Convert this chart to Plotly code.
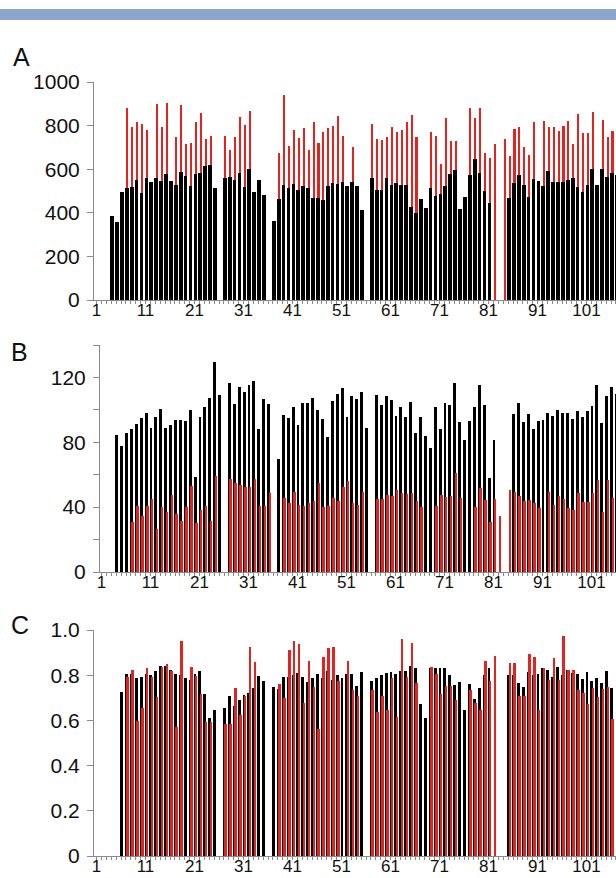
import plotly.graph_objects as go

# ---------------- data (index 1..107) ----------------
positions = list(range(1, 108))

A_black = [None, None, None, 385, 357, 494, 512, 517, 549, 491,
           559, 540, 559, 544, 576, 547, 529, 588, 570, 524,
           579, 582, 613, 619, 515, None, 559, 564, 549, 584,
           518, 600, 496, 549, 480, None, 362, 465, 529, 512,
           534, 506, 523, 512, 468, 467, 458, 524, 537, 532,
           543, 524, 540, 524, 415, None, 559, 503, 506, 559,
           529, 537, 529, 529, 426, 397, 465, 423, 514, 476,
           488, 521, 579, 597, 418, 471, 573, 646, 582, 502,
           445, None, None, None, 468, 537, 573, 529, 471, 555,
           547, 524, 594, 540, 541, 543, 552, 559, 518, 497,
           529, 600, 529, 600, 562, 582, 575]

A_red = [None, None, None, None, None, None, 882, 792, 815, 806,
         780, None, 897, 795, 904, None, 749, 895, 716, 719,
         815, 859, 737, 754, None, None, 752, 689, 746, 838,
         801, 868, None, None, None, None, None, 673, 942, 705,
         780, 743, 787, 686, 818, 719, 772, 787, 798, 844,
         752, None, 702, None, None, None, 806, 737, 734, 746,
         792, 771, 780, 818, 847, 746, None, None, 772, 752,
         623, 833, 730, 731, None, None, 879, 836, 883, 673,
         651, 716, None, 737, 661, 783, 792, 704, 663, 815,
         None, 821, 792, 795, 777, 798, 821, 716, 854, 765,
         765, 863, None, 825, 749, 777, 810]

B_black = [None, None, None, 84.3, 77.9, 85.9, 88.0, 91.3, 95.2, 98.0,
           88.8, 95.8, 100.3, 88.6, 90.9, 93.9, 93.5, 93.3, 99.9, 58.9,
           95.4, 101.9, 107.3, 129.6, 108.9, None, 116.3, 103.6, 114.2, 110.8,
           115.5, 117.7, 88.4, 106.4, 103.6, None, 69.5, 96.8, 94.8, 101.9,
           90.7, 104.4, 104.4, 107.3, 99.9, 94.1, 83.1, 105.2, 109.5, 113.2,
           95.8, 108.7, 106.7, 111.2, 89.0, None, 109.1, 103.0, 108.7, 106.0,
           96.2, 101.9, 95.4, 105.0, 85.9, 95.4, 83.9, 76.3, 101.5, 88.0,
           104.0, 102.8, 116.3, 92.7, 81.4, 93.3, 101.9, 115.3, 102.8, 57.8,
           81.4, None, None, None, 97.2, 104.0, 92.5, 97.2, 88.0, 93.3,
           93.7, 97.8, 96.2, 99.9, 98.2, 97.8, 94.1, 99.5, 95.4, 99.5,
           102.3, 115.3, 91.7, 108.7, 114.2, 110.0, None]

B_red = [None, None, None, None, None, None, 30.6, 41.0, 34.3, 40.8,
         44.9, 26.5, 39.8, 37.3, 47.6, 36.0, 31.6, 40.0, 53.1, 30.1,
         38.4, 41.0, 31.6, 59.5, None, None, 57.4, 54.8, 53.5, 52.7,
         52.7, 57.2, 40.8, 40.4, 48.6, None, None, 45.5, 42.5, 49.6,
         41.4, 41.0, 42.5, 43.9, 55.2, 39.8, 40.4, 45.5, 43.9, 52.7,
         56.2, 42.5, 41.4, 49.6, None, None, 45.1, 45.1, 47.6, 47.0,
         50.7, 48.6, 48.2, 48.6, 43.5, 39.8, None, None, 40.8, 47.6,
         46.0, 46.6, 60.9, 45.9, None, None, 39.8, 51.7, 44.5, 30.6,
         44.9, 34.3, None, 50.7, 49.6, 46.6, 43.5, 44.5, 42.5, 39.4,
         None, 49.2, 41.4, 46.6, 45.1, 39.4, 38.4, 48.6, 43.1, 43.1,
         49.0, 56.8, 37.3, 56.8, 45.5, 50.0, None]

C_black = [None, None, None, None, None, 0.727, 0.804, 0.804, 0.789, 0.793,
           0.804, 0.800, 0.818, 0.842, 0.840, 0.823, 0.804, 0.800, 0.789, 0.780,
           0.804, 0.820, 0.719, 0.609, 0.648, None, 0.656, 0.708, 0.665, 0.690,
           0.712, 0.720, 0.744, 0.798, 0.774, None, 0.749, 0.740, 0.790, 0.793,
           0.800, 0.808, 0.790, 0.771, 0.786, 0.804, 0.786, 0.818, 0.778, 0.800,
           0.789, 0.804, 0.804, 0.753, 0.812, None, 0.774, 0.789, 0.801, 0.808,
           0.812, 0.804, 0.818, 0.818, 0.842, 0.833, 0.671, 0.609, 0.830, 0.830,
           0.830, 0.830, 0.801, 0.756, 0.770, 0.646, 0.760, 0.694, 0.744, 0.801,
           0.833, None, None, None, 0.800, 0.800, 0.764, 0.749, 0.812, 0.800,
           0.804, 0.830, 0.823, 0.793, 0.835, 0.800, 0.823, 0.810, 0.804, 0.781,
           0.812, 0.774, 0.786, 0.764, 0.818, 0.742, None]

C_red = [None, None, None, None, None, None, 0.793, 0.823, 0.597, 0.656,
         0.833, 0.793, 0.705, 0.838, 0.848, 0.818, 0.572, 0.951, None, 0.835,
         0.798, 0.716, 0.591, 0.591, None, None, 0.582, 0.582, 0.744, 0.626,
         0.709, 0.923, 0.860, None, None, None, None, 0.759, 0.700, 0.911,
         0.951, 0.936, 0.679, 0.862, 0.749, 0.561, 0.882, 0.919, 0.926, 0.774,
         None, 0.862, 0.734, 0.709, None, None, 0.734, 0.635, 0.709, 0.646,
         0.786, 0.616, 0.960, 0.793, 0.941, 0.764, None, None, 0.835, 0.804,
         0.719, 0.753, 0.753, 0.690, None, None, 0.734, 0.675, 0.646, 0.864,
         0.774, 0.886, None, None, 0.852, 0.852, 0.709, 0.709, 0.892, 0.882,
         0.646, 0.830, 0.778, 0.877, 0.778, 0.973, 0.823, 0.823, 0.734, 0.722,
         0.671, 0.742, 0.705, 0.740, 0.750, 0.606, None]

x_label_ticks = [1, 11, 21, 31, 41, 51, 61, 71, 81, 91, 101]
A_yticks = [0, 200, 400, 600, 800, 1000]
B_yticks = [0, 20, 40, 60, 80, 100, 120, 140]
B_ylabels = ["0", "", "40", "", "80", "", "120", ""]
C_yticks = [0, 0.2, 0.4, 0.6, 0.8, 1.0]
C_ylabels = ["0", "0.2", "0.4", "0.6", "0.8", "1.0"]

# ---------------- layout geometry (pixels) ----------------
W, H = 616, 878
PX_PER_UNIT = 4.9
BLACK = "#000000"
RED = "#E3231F"
AXIS = "#8a8a8a"
FONT = "Liberation Sans, Arial, sans-serif"

panels = [
    dict(letter="A", black=A_black, red=A_red, left=94, tick1=96.5, top=82, bottom=300,
         yrange=[0, 1000], yticks=A_yticks, ylabels=[str(v) for v in A_yticks],
         red_front=False, letter_pos=(11, 57)),
    dict(letter="B", black=B_black, red=B_red, left=100, tick1=101.5, top=345, bottom=572,
         yrange=[0, 140], yticks=B_yticks, ylabels=B_ylabels,
         red_front=True, letter_pos=(9, 352)),
    dict(letter="C", black=C_black, red=C_red, left=94, tick1=96.5, top=630, bottom=856,
         yrange=[0, 1.0], yticks=C_yticks, ylabels=C_ylabels,
         red_front=True, letter_pos=(9, 625)),
]

fig = go.Figure()
layout = dict()
annotations = []
xtext = [str(p) if p in x_label_ticks else "" for p in positions]

for k, p in enumerate(panels, start=1):
    xa = "x" if k == 1 else f"x{k}"
    ya = "y" if k == 1 else f"y{k}"
    if p["red_front"]:
        black_tr = go.Bar(x=positions, y=p["black"], offset=-0.2, width=0.6,
                          marker=dict(color=BLACK, line=dict(width=0)),
                          xaxis=xa, yaxis=ya, showlegend=False)
        red_tr = go.Bar(x=positions, y=p["red"], offset=0.1, width=0.5,
                        marker=dict(color=RED, line=dict(width=0)),
                        xaxis=xa, yaxis=ya, showlegend=False)
        fig.add_trace(black_tr)
        fig.add_trace(red_tr)
    else:
        red_tr = go.Bar(x=positions, y=p["red"], offset=0.1, width=0.42,
                        marker=dict(color=RED, line=dict(width=0)),
                        xaxis=xa, yaxis=ya, showlegend=False)
        black_tr = go.Bar(x=positions, y=p["black"], offset=-0.2, width=0.75,
                          marker=dict(color=BLACK, line=dict(width=0)),
                          xaxis=xa, yaxis=ya, showlegend=False)
        fig.add_trace(red_tr)
        fig.add_trace(black_tr)

    x0 = 1 - (p["tick1"] - p["left"]) / PX_PER_UNIT
    x1 = x0 + (W - p["left"]) / PX_PER_UNIT
    xkey = "xaxis" if k == 1 else f"xaxis{k}"
    ykey = "yaxis" if k == 1 else f"yaxis{k}"
    layout[xkey] = dict(
        domain=[p["left"] / W, 1.0], range=[x0, x1], anchor=ya,
        tickmode="array", tickvals=positions, ticktext=xtext,
        ticks="outside", ticklen=3, tickwidth=1, tickcolor=AXIS,
        showline=True, linecolor=AXIS, linewidth=1,
        showgrid=False, zeroline=False,
        tickfont=dict(family=FONT, size=17, color="#111111"),
        ticklabelstandoff=-8,
        fixedrange=True, automargin=False,
    )
    layout[ykey] = dict(
        domain=[1 - p["bottom"] / H, 1 - p["top"] / H], range=p["yrange"], anchor=xa,
        tickmode="array", tickvals=p["yticks"], ticktext=p["ylabels"],
        ticks="outside", ticklen=6, tickwidth=1, tickcolor=AXIS,
        showline=True, linecolor=AXIS, linewidth=1,
        showgrid=False, zeroline=False,
        tickfont=dict(family=FONT, size=21, color="#111111"),
        ticklabelstandoff=3,
        fixedrange=True, automargin=False,
    )
    lx, ly = p["letter_pos"]
    annotations.append(dict(text=p["letter"], xref="paper", yref="paper",
                            x=lx / W, y=1 - ly / H, xanchor="left", yanchor="middle",
                            showarrow=False,
                            font=dict(family=FONT, size=25, color="#111111")))

fig.update_layout(
    autosize=True,
    margin=dict(l=0, r=0, t=0, b=0, pad=0, autoexpand=False),
    paper_bgcolor="white", plot_bgcolor="white",
    barmode="overlay", bargap=0,
    annotations=annotations,
    shapes=[dict(type="rect", xref="paper", yref="paper",
                 x0=0, x1=1, y0=1 - 20 / H, y1=1 - 9 / H,
                 fillcolor="#8CA5CC", line=dict(width=0), layer="above")],
    **layout,
)

# the plot div is pinned to the page's top-left corner at exactly 616x878
fig.write_html("out.html",
               config={"displayModeBar": False},
               default_width=f"{W}px;position:absolute;left:0;top:0",
               default_height=f"{H}px")
